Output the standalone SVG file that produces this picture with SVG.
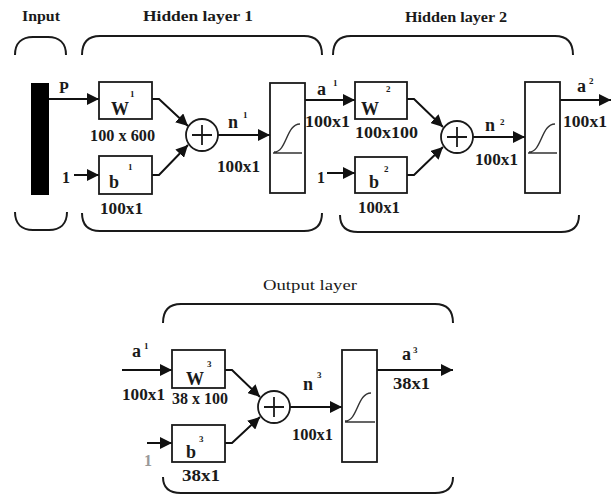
<svg xmlns="http://www.w3.org/2000/svg" width="611" height="502" viewBox="0 0 611 502">
<defs>
<marker id="ah" viewBox="0 0 12 12" refX="12" refY="6" markerWidth="12" markerHeight="12" markerUnits="userSpaceOnUse" orient="auto">
<path d="M0,0 L12,6 L0,12 z" fill="#111"/>
</marker>
<style>
text{font-family:"Liberation Serif","Times New Roman",serif;fill:#1a1a1a}
.h{font-size:15px;font-weight:bold}
.d{font-size:16px;font-weight:bold}
.s{font-size:18px;font-weight:bold}
.sup{font-size:9px;font-weight:bold}
.box{fill:#fff;stroke:#1a1a1a;stroke-width:1.8}
.brace{fill:none;stroke:#1a1a1a;stroke-width:2}
.con{fill:none;stroke:#111;stroke-width:2;marker-end:url(#ah)}
.sig{fill:none;stroke:#333;stroke-width:1.3}
</style>
</defs>
<rect width="611" height="502" fill="#fff"/>

<g id="braces">
<path class="brace" d="M15,55 C15,43 22,37 33,37 L48,37 C59,37 66,43 66,55"/>
<path class="brace" d="M15,212 C15,224 22,230 33,230 L49,230 C60,230 67,224 67,212"/>
<path class="brace" d="M82,55 C82,43 88,36 100,36 L304,36 C316,36 322,43 322,55"/>
<path class="brace" d="M82,213 C82,225 88,231 100,231 L304,231 C316,231 322,225 322,213"/>
<path class="brace" d="M333,55 C333,43 339,36 351,36 L555,36 C567,36 573,43 573,55"/>
<path class="brace" d="M340,215 C340,226 346,232 358,232 L561,232 C573,232 579,226 579,215"/>
<path class="brace" d="M163,323 C163,311 169,304 181,304 L435,304 C447,304 453,311 453,323"/>
<path class="brace" d="M163,477 C163,488 169,493 181,493 L435,493 C447,493 453,488 453,477"/>
</g>

<g id="titles">
<text class="h" x="22" y="21" textLength="38" lengthAdjust="spacingAndGlyphs">Input</text>
<text class="h" x="143" y="21" textLength="110" lengthAdjust="spacingAndGlyphs">Hidden layer 1</text>
<text class="h" x="405" y="22" textLength="102" lengthAdjust="spacingAndGlyphs">Hidden layer 2</text>
<text x="263" y="290" font-size="15" textLength="94" lengthAdjust="spacingAndGlyphs">Output layer</text>
</g>

<g id="input">
<rect x="31" y="83" width="18" height="112" fill="#000"/>
<text class="d" x="59" y="93">P</text>
</g>

<g id="connectors">
<line class="con" x1="49" y1="99" x2="99" y2="99"/>
<line class="con" x1="74" y1="175" x2="99" y2="175"/>
<polyline class="con" points="152,99 159,99 188,126"/>
<polyline class="con" points="152,175 159,175 188,145"/>
<line class="con" x1="218" y1="135" x2="270" y2="135"/>
<line class="con" x1="305" y1="100" x2="355" y2="100"/>
<line class="con" x1="327" y1="173" x2="355" y2="173"/>
<polyline class="con" points="407,99 414,99 443,127"/>
<polyline class="con" points="407,175 414,175 443,147"/>
<line class="con" x1="473" y1="137" x2="525" y2="137"/>
<line class="con" x1="560" y1="100" x2="611" y2="100"/>
<line class="con" x1="122" y1="370" x2="172" y2="370"/>
<line class="con" x1="147" y1="443" x2="172" y2="443"/>
<polyline class="con" points="225,370 232,370 260,397"/>
<polyline class="con" points="225,443 232,443 260,417"/>
<line class="con" x1="290" y1="407" x2="342" y2="407"/>
<line class="con" x1="377" y1="370" x2="453" y2="370"/>
</g>

<g id="W1">
<rect class="box" x="99" y="82" width="53" height="37"/>
<text class="s" x="111" y="115">W</text>
<text class="sup" x="130" y="97">1</text>
<text class="d" x="90" y="141" textLength="65" lengthAdjust="spacingAndGlyphs">100 x 600</text>
</g>
<g id="b1">
<rect class="box" x="99" y="156" width="53" height="38"/>
<text class="s" x="109" y="188">b</text>
<text class="sup" x="128" y="170">1</text>
<text class="d" x="62" y="183">1</text>
<text class="d" x="100" y="214" textLength="43" lengthAdjust="spacingAndGlyphs">100x1</text>
</g>
<g id="sum1">
<circle cx="202" cy="135" r="16" fill="#fff" stroke="#1a1a1a" stroke-width="1.8"/>
<path d="M192,135 H212 M202,125 V145" stroke="#1a1a1a" stroke-width="1.8"/>
<text class="s" x="228" y="128">n</text>
<text class="sup" x="243" y="118">1</text>
<text class="d" x="217" y="172" textLength="43" lengthAdjust="spacingAndGlyphs">100x1</text>
</g>
<g id="f1">
<rect class="box" x="270" y="83" width="35" height="110"/>
<path class="sig" d="M273,153 H302 M274,152 C287,152 286,124 300,124"/>
<text class="s" x="317" y="95">a</text>
<text class="sup" x="333" y="86">1</text>
<text class="d" x="305" y="127" textLength="45" lengthAdjust="spacingAndGlyphs">100x1</text>
</g>

<g id="W2">
<rect class="box" x="355" y="82" width="52" height="37"/>
<text class="s" x="361" y="115">W</text>
<text class="sup" x="386" y="92">2</text>
<text class="d" x="355" y="138" textLength="63" lengthAdjust="spacingAndGlyphs">100x100</text>
</g>
<g id="b2">
<rect class="box" x="355" y="157" width="52" height="36"/>
<text class="s" x="369" y="188">b</text>
<text class="sup" x="384" y="172">2</text>
<text class="d" x="317" y="183">1</text>
<text class="d" x="358" y="213" textLength="42" lengthAdjust="spacingAndGlyphs">100x1</text>
</g>
<g id="sum2">
<circle cx="457" cy="137" r="16" fill="#fff" stroke="#1a1a1a" stroke-width="1.8"/>
<path d="M447,137 H467 M457,127 V147" stroke="#1a1a1a" stroke-width="1.8"/>
<text class="s" x="485" y="131">n</text>
<text class="sup" x="500" y="125">2</text>
<text class="d" x="475" y="165" textLength="43" lengthAdjust="spacingAndGlyphs">100x1</text>
</g>
<g id="f2">
<rect class="box" x="525" y="82" width="35" height="111"/>
<path class="sig" d="M528,153 H557 M529,152 C542,152 541,124 555,124"/>
<text class="s" x="577" y="92">a</text>
<text class="sup" x="589" y="84">2</text>
<text class="d" x="563" y="127" textLength="44" lengthAdjust="spacingAndGlyphs">100x1</text>
</g>

<g id="W3">
<rect class="box" x="172" y="350" width="53" height="38"/>
<text class="s" x="186" y="385">W</text>
<text class="sup" x="207" y="367" font-size="11">3</text>
<text class="s" x="132" y="357">a</text>
<text class="sup" x="144" y="349">1</text>
<text class="d" x="122" y="400" textLength="43" lengthAdjust="spacingAndGlyphs">100x1</text>
<text class="d" x="172" y="404" textLength="56" lengthAdjust="spacingAndGlyphs">38 x 100</text>
</g>
<g id="b3">
<rect class="box" x="172" y="425" width="53" height="37"/>
<text class="s" x="186" y="458">b</text>
<text class="sup" x="199" y="442" font-size="11">3</text>
<text class="d" x="144" y="466" style="fill:#999">1</text>
<text class="d" x="182" y="481" textLength="38" lengthAdjust="spacingAndGlyphs">38x1</text>
</g>
<g id="sum3">
<circle cx="274" cy="407" r="16" fill="#fff" stroke="#1a1a1a" stroke-width="1.8"/>
<path d="M264,407 H284 M274,397 V417" stroke="#1a1a1a" stroke-width="1.8"/>
<text class="s" x="303" y="390">n</text>
<text class="sup" x="317" y="378" font-size="11">3</text>
<text class="d" x="292" y="440" textLength="41" lengthAdjust="spacingAndGlyphs">100x1</text>
</g>
<g id="f3">
<rect class="box" x="342" y="350" width="35" height="112"/>
<path class="sig" d="M345,422 H375 M345,421 C358,421 357,393 371,393"/>
<text class="s" x="402" y="360">a</text>
<text class="sup" x="413" y="353" font-size="11">3</text>
<text class="d" x="393" y="389" textLength="37" lengthAdjust="spacingAndGlyphs">38x1</text>
</g>
</svg>
